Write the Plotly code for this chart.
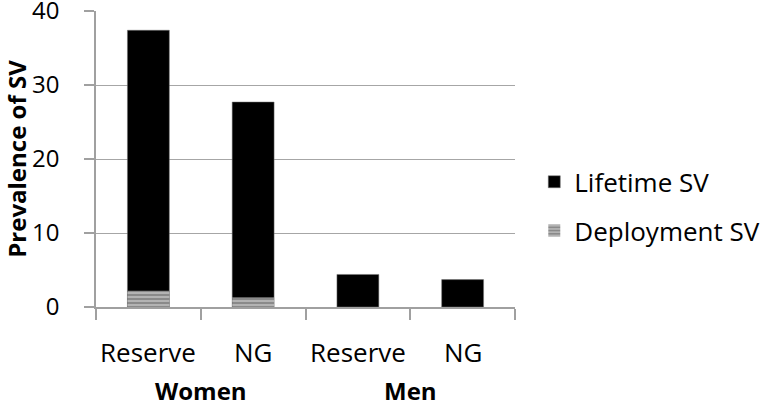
import plotly.graph_objects as go

groups = ["Women", "Women", "Men", "Men"]
subgroups = ["Reserve", "NG", "Reserve", "NG"]
categories = ["Women Reserve", "Women NG", "Men Reserve", "Men NG"]
lifetime_sv = [37.4, 27.7, 4.4, 3.7]
deployment_sv = [2.2, 1.3, 0.0, 0.0]
y_ticks = [0, 10, 20, 30, 40]

FONT = "Open Sans"

fig = go.Figure()
fig.add_trace(go.Bar(
    x=categories, y=lifetime_sv, name="Lifetime SV",
    marker=dict(color="black", line=dict(color="#777", width=0.5)),
    legendgroup="a",
))
fig.add_trace(go.Bar(
    x=categories, y=deployment_sv, name="Deployment SV",
    marker=dict(color="#9a9a9a", line=dict(width=0),
                pattern=dict(shape="-", fgcolor="#f2f2f2", bgcolor="#8a8a8a",
                             size=4, solidity=0.4)),
    legendgroup="b",
))

annotations = []
for c, s in zip(categories, subgroups):
    annotations.append(dict(x=c, y=0, xref="x", yref="paper", text=s,
                            showarrow=False, yanchor="middle", yshift=-45,
                            font=dict(family=FONT, size=26, color="black")))
seen = []
for i, g in enumerate(groups):
    if g in seen:
        continue
    seen.append(g)
    idx = [j for j, gg in enumerate(groups) if gg == g]
    center = (idx[0] + idx[-1]) / 2
    annotations.append(dict(x=center, y=0, xref="x", yref="paper",
                            text="<b>" + g + "</b>", showarrow=False,
                            yanchor="middle", yshift=-83,
                            font=dict(family=FONT, size=24, color="black")))

fig.update_layout(
    width=767, height=403,
    margin=dict(l=96, r=252, t=11, b=96, autoexpand=False),
    paper_bgcolor="white", plot_bgcolor="white",
    barmode="overlay", bargap=0.6,
    font=dict(family=FONT, size=22, color="black"),
    showlegend=True,
    legend=dict(x=1.046, y=0.34, xanchor="left", yanchor="middle",
                traceorder="grouped", tracegroupgap=12,
                font=dict(family=FONT, size=26, color="black")),
    annotations=annotations,
)
fig.update_xaxes(
    type="category", tickson="boundaries", showticklabels=False,
    ticks="outside", ticklen=11, tickcolor="#a0a0a0", tickwidth=1.5,
    showline=True, linecolor="#a0a0a0", linewidth=1.5, showgrid=False,
    range=[-0.5, 3.5], automargin=False,
)
fig.update_yaxes(
    range=[0, 40], tickvals=y_ticks, ticks="outside", ticklen=10,
    tickcolor="#a0a0a0", tickwidth=1.5, ticklabeloverflow="allow",
    ticklabelstandoff=20,
    showline=True, linecolor="#a0a0a0", linewidth=1.5,
    gridcolor="#a6a6a6", gridwidth=1.2, zeroline=False, automargin=False,
    tickfont=dict(family=FONT, size=24, color="black"),
    title=dict(text="<b>Prevalence of SV</b>", standoff=8,
               font=dict(family=FONT, size=24, color="black")),
)

fig.write_html("out.html", config={"displayModeBar": False},
               post_script="document.body.style.margin='0';document.body.style.overflow='hidden';")
